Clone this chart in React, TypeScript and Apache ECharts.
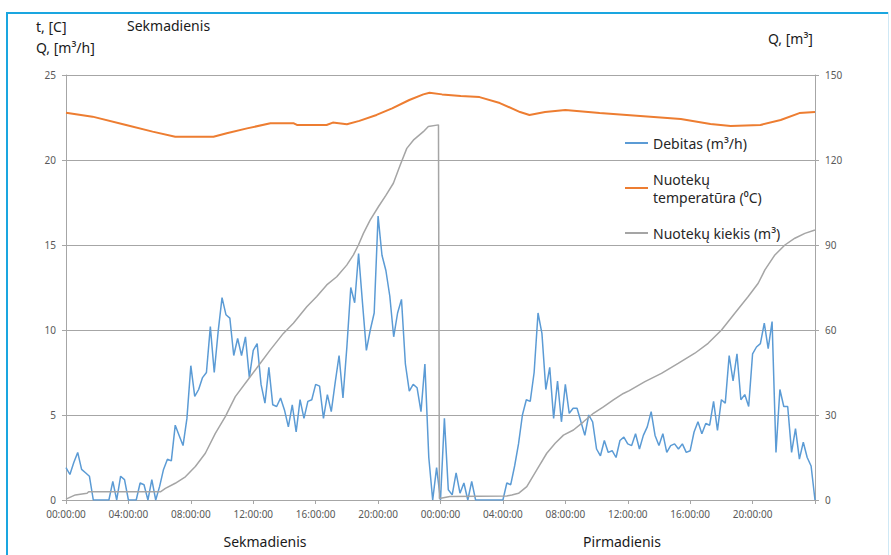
import React, { useEffect, useRef } from "react";
import * as echarts from "echarts";

// Debitas (m3/h), sampled every 15 minutes over two days (0 h .. 48 h)
const debitasStepHours = 0.25;
const debitasValues = [
  1.9, 1.5, 2.2, 2.8, 1.8, 1.6, 1.4, 0, 0, 0, 0, 0, 1.1, 0, 1.4, 1.2, 0, 0, 0, 1.0,
  0.9, 0, 1.2, 0, 0.8, 1.8, 2.4, 2.3, 4.4, 3.8, 3.2, 4.8, 7.9, 6.1, 6.5, 7.2, 7.5, 10.2, 7.5, 9.9,
  11.9, 10.9, 10.7, 8.5, 9.5, 8.5, 9.6, 7.2, 8.8, 9.2, 6.8, 5.7, 7.8, 5.6, 5.5, 6.0, 5.3, 4.3, 5.6, 4.0,
  5.9, 4.8, 5.8, 5.9, 6.8, 6.7, 4.8, 6.2, 5.2, 6.9, 8.5, 6.0, 9.0, 12.5, 11.6, 14.5, 11.6, 8.8, 10.0, 11.0,
  16.7, 14.4, 13.5, 12.0, 9.6, 11.0, 11.8, 8.0, 6.4, 6.8, 6.6, 5.2, 8.0, 2.5, 0, 1.9, 0, 4.8, 0.6, 0.3,
  1.6, 0.4, 1.0, 0, 1.1, 0, 0, 0, 0, 0, 0, 0, 0, 1.0, 0.9, 2.0, 3.3, 5.0, 5.9, 5.8,
  7.5, 11.0, 9.8, 6.5, 7.8, 4.8, 7.0, 4.6, 6.8, 5.1, 5.4, 5.4, 4.6, 3.8, 5.0, 4.6, 3.0, 2.6, 3.5, 2.8,
  2.9, 2.5, 3.5, 3.7, 3.3, 3.2, 3.9, 3.0, 3.8, 4.3, 5.2, 3.8, 3.2, 3.9, 2.8, 3.2, 3.3, 3.0, 3.3, 2.8,
  2.9, 4.0, 4.6, 3.9, 4.5, 4.4, 5.8, 4.1, 5.9, 5.7, 8.5, 7.0, 8.6, 5.9, 6.2, 5.5, 8.6, 9.0, 9.2, 10.4,
  8.9, 10.5, 2.8, 6.5, 5.5, 5.5, 2.8, 4.2, 2.4, 3.4, 2.5, 2.0, 0,
];

// Nuotekų temperatūra (°C)
const temperTimes = [
  0, 1.7, 3.85, 5.55, 7.0, 9.45, 10.3, 11.6, 13.1, 14.6, 14.8, 16.7, 17.1, 18.0, 18.8, 19.9, 20.9, 22.0, 22.9, 23.3,
  24.1, 25.3, 26.5, 27.8, 29.1, 29.7, 30.7, 32.0, 34.2, 36.8, 39.4, 41.3, 42.6, 44.5, 45.8, 47.0, 48,
];
const temperValues = [
  22.78, 22.55, 22.06, 21.67, 21.37, 21.37, 21.57, 21.86, 22.16, 22.16, 22.06, 22.06, 22.2, 22.1, 22.3, 22.65, 23.04, 23.53, 23.86, 23.96,
  23.86, 23.76, 23.7, 23.35, 22.82, 22.65, 22.82, 22.94, 22.76, 22.59, 22.41, 22.12, 22.0, 22.06, 22.35, 22.76, 22.82,
];

// Nuotekų kiekis (m3), cumulative, reset at midnight
const kiekisTimes = [
  0, 0.6, 1.35, 1.45, 6.05, 6.37, 7.0, 7.65, 8.29, 8.93, 9.57, 10.21, 10.85, 11.6, 12.44, 13.08, 13.93, 14.57, 15.43, 16.07,
  16.71, 17.35, 17.99, 18.42, 18.74, 19.06, 19.49, 20.02, 20.5, 20.98, 21.4, 21.84, 22.26, 22.9, 23.22, 23.87, 23.93, 24.6, 28.25, 28.57,
  29.0, 29.53, 30.17, 30.81, 31.35, 31.88, 32.52, 33.16, 33.8, 34.44, 35.08, 35.72, 36.1, 37.1, 38.16, 39.23, 40.3, 41.15, 42.01, 42.86,
  43.72, 44.36, 44.79, 45.43, 46.07, 46.71, 47.35, 48,
];
const kiekisValues = [
  0.3, 1.8, 2.35, 2.9, 2.9, 4.1, 5.9, 8.2, 11.8, 16.5, 23.5, 29.4, 36.5, 42.0, 48.2, 52.9, 58.8, 62.4, 68.2, 71.8,
  75.9, 78.8, 82.9, 86.5, 90, 94.1, 98.8, 103.5, 107.5, 111.8, 118, 124.1, 127, 130, 131.8, 132.4, 0.5, 1.2, 1.4, 1.8,
  2.35, 4.7, 10.6, 16.5, 20, 22.9, 24.7, 27.6, 30.6, 32.9, 35.3, 37.6, 38.6, 41.8, 44.7, 48.2, 51.8, 55.3, 60, 65.9,
  71.8, 76.5, 81.2, 86.5, 90, 92.4, 94.1, 95.3,
];

const seriesNames = ["Debitas (m³/h)", "Nuotekų\ntemperatūra (⁰C)", "Nuotekų kiekis (m³)"];
const dayLabels = ["Sekmadienis", "Pirmadienis"];

const FONT = "Noto Sans";

export default function App() {
  const ref = useRef<HTMLDivElement>(null);

  useEffect(() => {
    if (!ref.current) return;
    const chart = echarts.init(ref.current, null, { renderer: "svg" });
    const pad = (n: number) => (n < 10 ? "0" + n : "" + n);

    const option: any = {
      animation: false,
      backgroundColor: "#ffffff",
      grid: { left: 66, right: 76, top: 75, bottom: 55, containLabel: false },
      legend: {
        orient: "vertical",
        left: 620,
        top: 129,
        itemWidth: 23,
        itemHeight: 2,
        itemGap: 18,
        icon: "rect",
        textStyle: { fontSize: 14, fontFamily: FONT, color: "#262626", lineHeight: 18 },
        data: seriesNames,
      },
      xAxis: {
        type: "value",
        min: 0,
        max: 48,
        interval: 4,
        axisLine: { show: true, lineStyle: { color: "#a6a6a6", width: 1 } },
        axisTick: { show: true, length: 4, lineStyle: { color: "#a6a6a6" } },
        splitLine: { show: false },
        axisLabel: {
          fontSize: 10,
          fontFamily: FONT,
          color: "#595959",
          margin: 9,
          formatter: (v: number) => (v >= 48 ? "" : pad(Math.round(v) % 24) + ":00:00"),
        },
      },
      yAxis: [
        {
          type: "value",
          min: 0,
          max: 25,
          interval: 5,
          axisLine: { show: true, lineStyle: { color: "#a6a6a6" } },
          axisTick: { show: true, length: 4, lineStyle: { color: "#a6a6a6" } },
          splitLine: { show: true, lineStyle: { color: "#a6a6a6", width: 1 } },
          axisLabel: { fontSize: 10, fontFamily: FONT, color: "#595959", margin: 10 },
        },
        {
          type: "value",
          min: 0,
          max: 150,
          interval: 30,
          position: "right",
          axisLine: { show: true, lineStyle: { color: "#a6a6a6" } },
          axisTick: { show: true, length: 4, lineStyle: { color: "#a6a6a6" } },
          splitLine: { show: false },
          axisLabel: { fontSize: 10, fontFamily: FONT, color: "#595959", margin: 10 },
        },
      ],
      series: [
        {
          name: seriesNames[0],
          type: "line",
          yAxisIndex: 0,
          showSymbol: false,
          lineStyle: { color: "#5b9bd5", width: 1.5 },
          itemStyle: { color: "#5b9bd5" },
          data: debitasValues.map((v, i) => [i * debitasStepHours, v]),
        },
        {
          name: seriesNames[1],
          type: "line",
          yAxisIndex: 0,
          showSymbol: false,
          lineStyle: { color: "#ed7d31", width: 2 },
          itemStyle: { color: "#ed7d31" },
          data: temperTimes.map((t, i) => [t, temperValues[i]]),
        },
        {
          name: seriesNames[2],
          type: "line",
          yAxisIndex: 1,
          showSymbol: false,
          lineStyle: { color: "#a5a5a5", width: 1.5 },
          itemStyle: { color: "#a5a5a5" },
          data: kiekisTimes.map((t, i) => [t, kiekisValues[i]]),
        },
      ],
      graphic: [
        { type: "rect", shape: { x: 6, y: 12, width: 2, height: 543 }, style: { fill: "#1aa6e0" }, silent: true },
        { type: "rect", shape: { x: 6, y: 12, width: 883, height: 2 }, style: { fill: "#1aa6e0" }, silent: true },
        { type: "rect", shape: { x: 888, y: 12, width: 1, height: 543 }, style: { fill: "#cfe8f5" }, silent: true },
        {
          type: "text",
          x: 36,
          y: 26,
          style: { text: "t, [C]", fontSize: 14, fontFamily: FONT, fill: "#1a1a1a", textVerticalAlign: "middle" },
        },
        {
          type: "text",
          x: 36,
          y: 47,
          style: { text: "Q, [m³/h]", fontSize: 14, fontFamily: FONT, fill: "#1a1a1a", textVerticalAlign: "middle" },
        },
        {
          type: "text",
          x: 127,
          y: 25,
          style: { text: dayLabels[0], fontSize: 14, fontFamily: FONT, fill: "#1a1a1a", textVerticalAlign: "middle" },
        },
        {
          type: "text",
          x: 768,
          y: 38,
          style: { text: "Q, [m³]", fontSize: 14, fontFamily: FONT, fill: "#1a1a1a", textVerticalAlign: "middle" },
        },
        {
          type: "text",
          x: 265,
          y: 541,
          style: { text: dayLabels[0], fontSize: 14, fontFamily: FONT, fill: "#1a1a1a", textAlign: "center", textVerticalAlign: "middle" },
        },
        {
          type: "text",
          x: 622,
          y: 541,
          style: { text: dayLabels[1], fontSize: 14, fontFamily: FONT, fill: "#1a1a1a", textAlign: "center", textVerticalAlign: "middle" },
        },
      ],
    };

    chart.setOption(option);
    return () => chart.dispose();
  }, []);

  return (
    <div
      ref={ref}
      style={{ position: "absolute", left: 0, top: 0, width: 891, height: 555, background: "#fff" }}
    />
  );
}
